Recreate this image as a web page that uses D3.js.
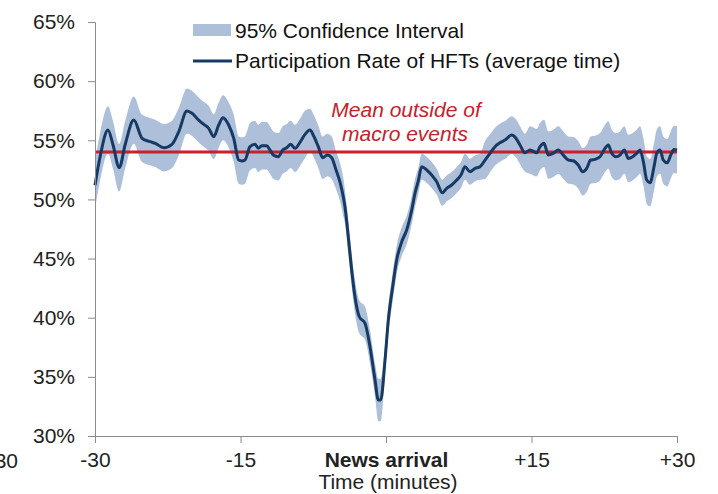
<!DOCTYPE html>
<html>
<head>
<meta charset="utf-8">
<script src="https://cdn.jsdelivr.net/npm/d3@7"></script>
<style>
  body { margin: 0; background: #fff; }
  svg { display: block; font-family: "Liberation Sans", Arial, sans-serif; }
</style>
</head>
<body>
<div id="viz"></div>
<script>
// minutes relative to news arrival
var times = [-30.0, -29.5, -28.66, -28.14, -27.5, -26.9, -26.0, -25.15, -24.33, -23.78,
  -22.92, -22.06, -21.37, -20.52, -20.0, -19.31, -18.79, -18.28, -17.76, -17.25,
  -16.8, -16.22, -15.7, -15.19, -14.85, -14.54, -14.02, -13.5, -13.16, -12.81,
  -12.3, -11.96, -11.62, -11.1, -10.65, -10.24, -9.82, -9.38, -8.87, -8.35,
  -7.84, -7.42, -6.98, -6.53, -6.05, -5.6, -5.15, -4.74, -4.38, -4.23,
  -3.89, -3.54, -3.2, -2.75, -2.16, -1.65, -1.13, -0.79, -0.55, -0.1,
  0.24, 0.69, 1.1, 1.62, 2.13, 2.65, 2.99, 3.33, 3.68, 4.2,
  4.71, 5.23, 5.8, 6.26, 6.77, 7.29, 7.73, 8.14, 8.66, 9.18,
  9.69, 10.21, 10.72, 11.24, 11.75, 12.27, 12.96, 13.4, 13.81, 14.33,
  14.85, 15.54, 15.88, 16.29, 16.73, 17.25, 17.76, 18.28, 18.79, 19.31,
  19.82, 20.28, 20.69, 21.1, 21.55, 22.06, 22.58, 22.92, 23.27, 23.71,
  24.12, 24.57, 24.98, 25.43, 25.85, 26.19, 26.53, 26.88, 27.22, 27.63,
  27.91, 28.25, 28.59, 29.0, 29.35, 29.69, 30.0];

// participation rate of HFTs, %
var rate = [51.2, 53.5, 55.87, 54.6, 52.68, 54.6, 56.71, 55.17, 54.88, 54.74,
  54.37, 54.66, 55.72, 57.47, 57.28, 56.71, 56.35, 56.01, 55.3, 56.29,
  56.91, 56.29, 55.17, 53.33, 53.25, 53.33, 54.46, 54.66, 54.32, 54.54,
  54.54, 54.18, 53.75, 53.61, 54.18, 54.37, 54.66, 54.32, 54.83, 55.5,
  55.87, 55.3, 54.46, 53.53, 53.75, 53.53, 52.49, 51.47, 50.12, 49.38,
  46.85, 44.03, 41.78, 40.08, 39.53, 37.55, 34.73, 33.04, 33.04, 36.42,
  39.81, 42.62, 44.88, 46.42, 47.41, 49.1, 50.52, 51.56, 52.76, 52.49,
  52.06, 51.5, 50.57, 50.94, 51.22, 51.64, 52.06, 52.76, 52.34, 52.63,
  52.76, 53.33, 53.9, 54.46, 54.79, 55.02, 55.44, 55.17, 54.6, 53.95,
  54.18, 53.95, 54.46, 54.74, 53.75, 53.9, 54.18, 53.75, 53.33, 53.27,
  52.91, 52.34, 52.63, 53.33, 53.39, 53.61, 54.32, 54.6, 53.9, 53.61,
  53.75, 54.18, 53.47, 53.61, 53.9, 54.18, 53.19, 51.64, 51.41, 52.76,
  53.9, 54.18, 53.33, 53.1, 53.75, 54.23, 54.18];

// half width of the 95% confidence interval, %
var ciHalf = [2.0, 2.0, 2.0, 2.0, 2.0, 2.0, 2.0, 2.0, 2.0, 2.0,
  2.0, 2.0, 2.0, 1.9, 1.9, 1.9, 1.9, 1.9, 1.9, 1.9,
  1.9, 1.9, 2.0, 2.0, 2.0, 2.0, 2.0, 2.0, 2.0, 2.0,
  2.0, 2.0, 2.0, 2.0, 2.0, 2.0, 2.0, 2.0, 2.0, 2.0,
  1.8, 1.8, 1.8, 1.8, 1.8, 1.8, 1.6, 1.6, 1.6, 1.4,
  1.4, 1.4, 1.4, 1.4, 1.4, 1.4, 1.4, 1.8, 1.8, 1.2,
  1.2, 1.2, 1.2, 1.2, 1.2, 1.2, 1.2, 1.1, 1.1, 1.1,
  1.1, 1.1, 1.1, 1.1, 1.1, 1.1, 1.1, 1.1, 1.1, 1.1,
  1.1, 1.6, 1.6, 1.6, 1.6, 1.6, 1.6, 1.6, 1.6, 1.6,
  2.0, 2.0, 2.0, 2.0, 2.0, 2.0, 2.0, 2.0, 2.0, 2.0,
  2.0, 2.0, 2.0, 2.0, 2.0, 2.0, 2.0, 2.0, 2.0, 2.0,
  2.0, 2.0, 2.0, 2.0, 2.0, 2.0, 2.0, 2.0, 2.0, 2.0,
  2.0, 2.0, 2.0, 2.0, 2.0, 2.0, 2.0];

var meanOutside = 54;
var yTicks = [30, 35, 40, 45, 50, 55, 60, 65];
var xTicks = [-30, -15, 0, 15, 30];
var xTickLabels = ["-30", "-15", "News arrival", "+15", "+30"];

var W = 718, H = 494;
var pad = {l: 95, r: 677, t: 22, b: 436};
var fs = "21px";

var svg = d3.select("#viz").append("svg")
  .attr("width", W)
  .attr("height", H);

var x = d3.scaleLinear().domain([-30, 30]).range([pad.l, pad.r]);
var y = d3.scaleLinear().domain([30, 65]).range([pad.b, pad.t]);

var pts = times.map(function(t, i){ return {t: t, v: rate[i], h: ciHalf[i]}; });

// confidence band
var band = d3.area()
  .x(function(d){ return x(d.t); })
  .y0(function(d){ return y(d.v - d.h); })
  .y1(function(d){ return y(d.v + d.h); })
  .curve(d3.curveMonotoneX);

svg.append("path")
  .datum(pts)
  .attr("d", band)
  .style("fill", "#adbfd9");

// mean line
svg.append("line")
  .attr("x1", x(-30))
  .attr("x2", x(30))
  .attr("y1", y(meanOutside))
  .attr("y2", y(meanOutside))
  .style("stroke", "#c8202a")
  .style("stroke-width", 3);

var line = d3.line()
  .x(function(d){ return x(d.t); })
  .y(function(d){ return y(d.v); })
  .curve(d3.curveMonotoneX);

svg.append("path")
  .datum(pts)
  .attr("d", line)
  .style("fill", "none")
  .style("stroke", "#163a63")
  .style("stroke-width", 3)
  .style("stroke-linejoin", "round");

// axes
var yAxis = svg.append("g")
  .attr("transform", "translate(" + pad.l + ",0)")
  .call(d3.axisLeft(y).tickValues(yTicks).tickSize(7).tickPadding(13)
    .tickFormat(function(d){ return d + "%"; }));

var xAxis = svg.append("g")
  .attr("transform", "translate(0," + pad.b + ")")
  .call(d3.axisBottom(x).tickValues(xTicks).tickSize(7).tickPadding(9)
    .tickFormat(function(d, i){ return xTickLabels[i]; }));

[yAxis, xAxis].forEach(function(g){
  g.select(".domain").style("stroke", "#8c8c8c");
  g.selectAll(".tick line").style("stroke", "#8c8c8c");
  g.selectAll(".tick text")
    .style("font-size", fs)
    .style("font-family", "Liberation Sans, Arial, sans-serif")
    .style("fill", "#222");
});

xAxis.selectAll(".tick text")
  .filter(function(d){ return d === 0; })
  .style("font-weight", "bold");

svg.append("text")
  .attr("x", x(0) + 2)
  .attr("y", 489)
  .attr("text-anchor", "middle")
  .style("font-size", fs)
  .style("fill", "#222")
  .text("Time (minutes)");

// fragment of the neighbouring chart at the left edge
svg.append("text")
  .attr("x", 18)
  .attr("y", 468)
  .attr("text-anchor", "end")
  .style("font-size", fs)
  .style("fill", "#222")
  .text("+30");

// annotation
var note = svg.append("text")
  .attr("text-anchor", "middle")
  .style("font-size", fs)
  .style("font-style", "italic")
  .style("fill", "#c8202a");
note.append("tspan").attr("x", 406).attr("y", 117).text("Mean outside of");
note.append("tspan").attr("x", 405).attr("y", 141).text("macro events");

// legend
var lg = svg.append("g");
lg.append("rect")
  .attr("x", 193).attr("y", 24).attr("width", 38).attr("height", 12)
  .style("fill", "#adbfd9");
lg.append("text")
  .attr("x", 235).attr("y", 38)
  .style("font-size", fs).style("fill", "#111")
  .text("95% Confidence Interval");
lg.append("line")
  .attr("x1", 193).attr("x2", 232).attr("y1", 61).attr("y2", 61)
  .style("stroke", "#163a63").style("stroke-width", 3);
lg.append("text")
  .attr("x", 235).attr("y", 68)
  .style("font-size", fs).style("fill", "#111")
  .text("Participation Rate of HFTs (average time)");
</script>
</body>
</html>
